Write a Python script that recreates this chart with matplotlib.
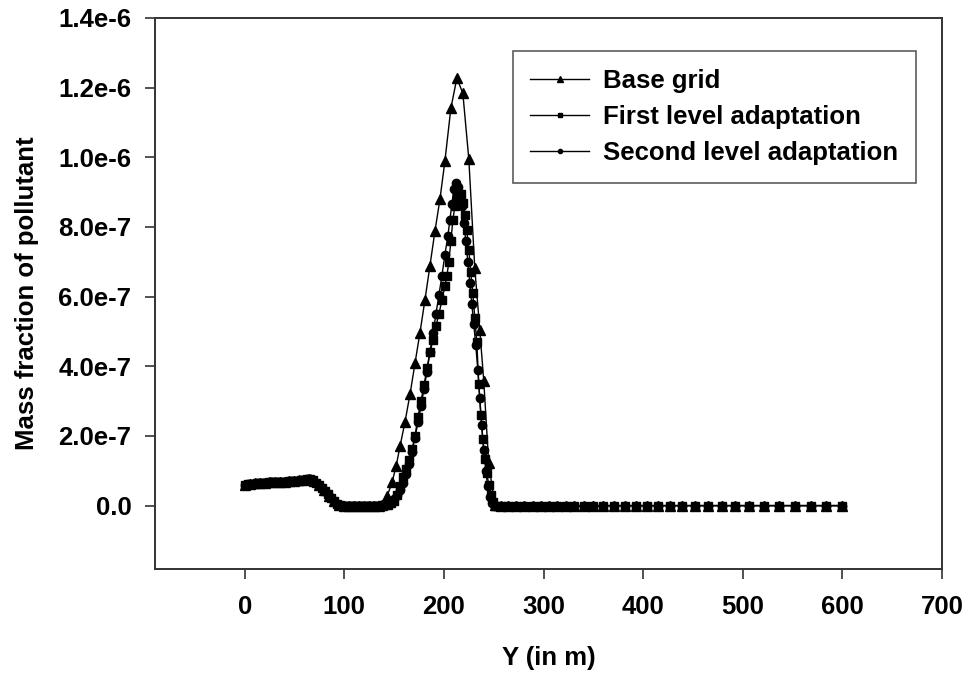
import matplotlib
matplotlib.use("Agg")
import matplotlib.pyplot as plt
from matplotlib.lines import Line2D

plt.rcParams['font.family'] = ['Liberation Sans', 'DejaVu Sans']
plt.rcParams['font.weight'] = 'bold'

# values in units of 1e-7
base_x = [0, 5, 10, 15, 20, 25, 30, 35, 40, 45, 50, 55, 60, 65, 70, 75, 80, 85, 90, 95,
          100, 105, 110, 115, 120, 125, 130, 135, 138,
          143, 148, 152, 156, 161, 166, 171, 176, 181, 186, 191, 196, 201, 207, 213, 219,
          225, 231, 236, 240, 245, 251,
          257, 264, 272, 280, 289, 297, 305, 314, 323, 331, 341, 350, 360, 371, 382, 393,
          404, 415, 427, 439, 452, 465, 479, 492, 506, 521, 536, 552, 568, 584, 600]
base_y = [0.60, 0.62, 0.635, 0.65, 0.66, 0.67, 0.68, 0.685, 0.69, 0.70, 0.71, 0.725, 0.745, 0.75,
          0.71, 0.58, 0.44, 0.29, 0.12, 0.01,
          0, 0, 0, 0, 0, 0, 0, 0, 0.01,
          0.27, 0.67, 1.13, 1.71, 2.41, 3.20, 4.09, 4.97, 5.91, 6.89, 7.88, 8.79, 9.89, 11.41,
          12.27, 11.84, 9.95, 6.82, 5.05, 3.58, 1.21, 0.02,
          0, 0, 0, 0, 0, 0, 0, 0, 0, 0, 0, 0, 0, 0, 0, 0,
          0, 0, 0, 0, 0, 0, 0, 0, 0, 0, 0, 0, 0, 0, 0]

low_x = [0, 3, 6, 9, 12, 15, 18, 21, 24, 27, 30, 33, 36, 39, 42, 45, 48, 51, 54, 57, 60, 63,
         66, 69, 72, 75, 78, 81, 84, 87, 90, 93, 96, 99, 102, 105, 108, 111, 114, 117, 120,
         123, 126, 129, 132, 135, 138]
low_y = [0.60, 0.61, 0.62, 0.63, 0.64, 0.65, 0.655, 0.66, 0.67, 0.675, 0.68, 0.68, 0.685,
         0.69, 0.69, 0.70, 0.70, 0.71, 0.72, 0.73, 0.745, 0.75, 0.75, 0.73, 0.66, 0.58, 0.50,
         0.41, 0.32, 0.22, 0.12, 0.04, 0.005, 0, 0, 0, 0, 0, 0, 0, 0, 0, 0, 0, 0, 0, 0.005]

tail_x = [251, 257, 264, 272, 280, 289, 297, 305, 314, 323, 331, 341, 350, 360, 371, 382, 393,
          404, 415, 427, 439, 452, 465, 479, 492, 506, 521, 536, 552, 568, 584, 600]
tail_y = [0] * len(tail_x)

first_peak_x = [141, 144, 147, 150, 153, 156, 159, 162, 165, 168, 171, 174, 177, 180, 183, 186,
                189, 192, 195, 198, 201, 203, 205, 207, 209, 211, 213, 215, 217, 219, 221, 223,
                225, 227, 229, 231, 233, 235, 237, 239, 241, 243, 245, 247, 249]
first_peak_y = [0.01, 0.03, 0.07, 0.14, 0.30, 0.55, 0.82, 1.05, 1.30, 1.62, 2.00, 2.55, 3.00,
                3.45, 3.95, 4.40, 4.75, 5.15, 5.50, 5.90, 6.30, 6.60, 7.00, 7.60, 8.20, 8.60,
                8.85, 8.95, 8.95, 8.70, 8.35, 7.90, 7.35, 6.70, 6.10, 5.40, 4.70, 3.50, 2.60,
                1.90, 1.35, 0.95, 0.60, 0.30, 0.10]

second_peak_x = [141, 144, 147, 150, 153, 156, 159, 162, 165, 168, 171, 174, 177, 180, 183, 186,
                 189, 192, 195, 198, 201, 204, 206, 208, 210, 212, 214, 216, 218, 220, 222, 224,
                 226, 228, 230, 232, 234, 236, 238, 240, 242, 244, 246, 248]
second_peak_y = [0.02, 0.05, 0.10, 0.18, 0.30, 0.45, 0.65, 0.90, 1.20, 1.55, 1.95, 2.40, 2.85,
                 3.35, 3.85, 4.40, 4.95, 5.50, 6.05, 6.60, 7.20, 7.75, 8.20, 8.65, 9.10, 9.25,
                 9.15, 8.95, 8.60, 8.10, 7.60, 7.00, 6.40, 5.80, 5.20, 4.60, 3.90, 3.10, 2.30,
                 1.60, 1.00, 0.55, 0.25, 0.08]

first_x = low_x + first_peak_x + tail_x
first_y = low_y + first_peak_y + tail_y
second_x = low_x + second_peak_x + tail_x
second_y = low_y + second_peak_y + tail_y

scale = 1e-7
fs = 18.5

fig = plt.figure(figsize=(9.76, 6.74), dpi=100)
ax = fig.add_axes([0.1588, 0.1558, 0.8064, 0.8175])

ax.plot(base_x, [v * scale for v in base_y], color='black', lw=1.0,
        marker='^', ms=6.5, mfc='black', mec='black')
ax.plot(first_x, [v * scale for v in first_y], color='black', lw=1.0,
        marker='s', ms=5.5, mfc='black', mec='black')
ax.plot(second_x, [v * scale for v in second_y], color='black', lw=1.0,
        marker='o', ms=6, mfc='black', mec='black')

ax.set_xlim(-90, 700)
ax.set_ylim(-1.82e-7, 1.4e-6)
ax.set_xticks([0, 100, 200, 300, 400, 500, 600, 700])
yt = [0, 2e-7, 4e-7, 6e-7, 8e-7, 1e-6, 1.2e-6, 1.4e-6]
ax.set_yticks(yt)
ax.set_yticklabels(['0.0', '2.0e-7', '4.0e-7', '6.0e-7', '8.0e-7', '1.0e-6', '1.2e-6', '1.4e-6'])

ax.tick_params(axis='both', direction='out', length=7, width=1.2, color='#333333',
               labelsize=fs)
ax.tick_params(axis='y', pad=10)
ax.tick_params(axis='x', pad=12)
for lab in ax.get_xticklabels() + ax.get_yticklabels():
    lab.set_fontweight('bold')
for sp in ax.spines.values():
    sp.set_color('#333333')
    sp.set_linewidth(1.4)

ax.set_xlabel('Y (in m)', fontsize=fs, fontweight='bold', labelpad=19)
ax.set_ylabel('Mass fraction of pollutant', fontsize=fs, fontweight='bold', labelpad=14)

handles = [Line2D([], [], color='black', lw=1.0, marker='^', ms=4),
           Line2D([], [], color='black', lw=1.0, marker='s', ms=3.5),
           Line2D([], [], color='black', lw=1.0, marker='o', ms=3)]
labels = ['Base grid', 'First level adaptation', 'Second level adaptation']
leg = ax.legend(handles, labels, loc='upper right', bbox_to_anchor=(0.967, 0.940),
                borderaxespad=0, handlelength=2.3, handletextpad=0.55,
                frameon=True, fancybox=False, edgecolor='#333333', labelspacing=0.48,
                borderpad=0.68, prop={'weight': 'bold', 'size': fs})
leg.get_frame().set_linewidth(1.2)

fig.savefig('out.png', dpi=100)
